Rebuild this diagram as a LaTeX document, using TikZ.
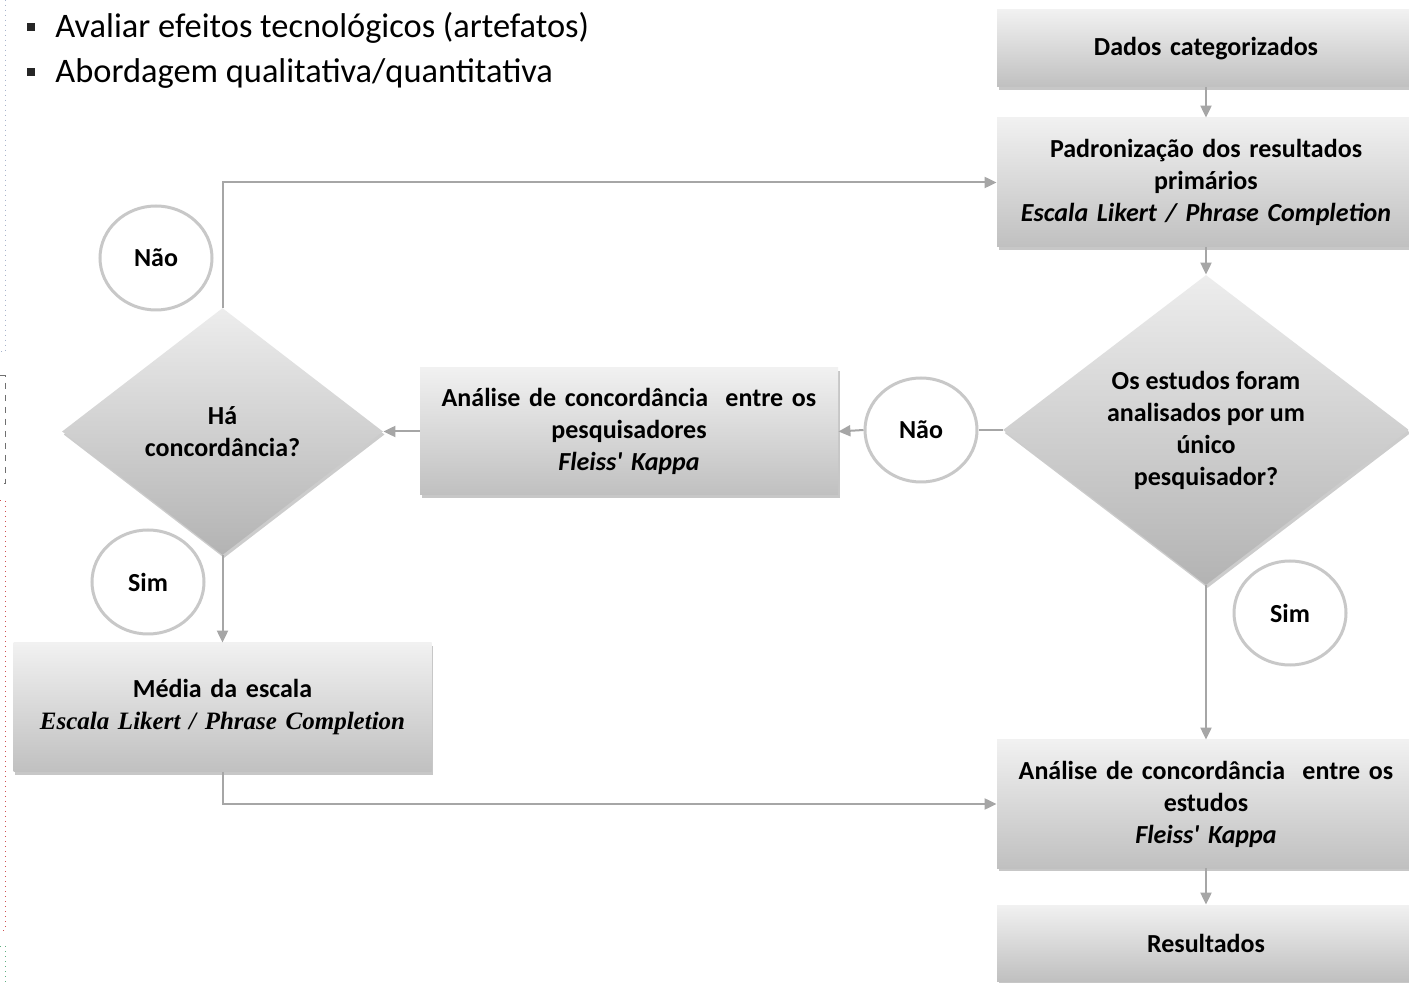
\documentclass[tikz,border=0pt]{standalone}
\usepackage{fontspec}
\setmainfont{Carlito}
\newfontfamily\serifbi{Liberation Serif}
\usetikzlibrary{shapes.geometric,arrows.meta,shadows}
\definecolor{linegray}{HTML}{A6A6A6}
\definecolor{circgray}{HTML}{C8C8C8}
\definecolor{boxtop}{HTML}{F1F1F1}
\definecolor{boxbot}{HTML}{C0C0C0}
\definecolor{diatop}{HTML}{EDEDED}
\definecolor{diabot}{HTML}{B3B3B3}
\definecolor{edgeblue}{HTML}{A8B4CC}
\definecolor{edgegray}{HTML}{707070}
\definecolor{edgered}{HTML}{D05050}
\definecolor{edgegreen}{HTML}{60B080}
\newcommand{\sq}{{\addfontfeature{Ligatures=TeXOff}'}}
\tikzset{
  txt/.style={font=\bfseries\fontsize{13}{16}\selectfont, text=black},
  box/.style={txt, rectangle, minimum width=209pt, text width=205pt, align=center,
    inner sep=0pt, top color=boxtop, bottom color=boxbot,
    drop shadow={shadow xshift=0.8pt, shadow yshift=-1.5pt, fill=black, opacity=0.22}},
  dia/.style={txt, diamond, aspect=1.3, inner sep=0pt, align=center,
    top color=diatop, bottom color=diabot,
    drop shadow={shadow xshift=0.8pt, shadow yshift=-1.5pt, fill=black, opacity=0.2}},
  circ/.style={txt, ellipse, draw=circgray, line width=1.5pt, fill=white,
    minimum width=56pt, minimum height=52pt, inner sep=0pt},
  conn/.style={draw=linegray, line width=1pt},
  arr/.style={conn, -{Triangle[length=6pt,width=5.5pt]}},
  bullettxt/.style={font=\fontsize{17.2}{20}\selectfont, text=black, anchor=base west, inner sep=0pt},
  bulletbox/.style={rectangle, fill=black!85, minimum size=4pt, inner sep=0pt},
  edgeline/.style={line width=0.5pt, dotted}
}
\begin{document}
\begin{tikzpicture}[x=0.5pt,y=-0.5pt]
\useasboundingbox (0,0) rectangle (1409,983);
\clip (0,0) rectangle (1409,983);
\fill[white] (0,0) rectangle (1409,983);

% left-edge fragments
\draw[edgeline, edgeblue] (0,0) -- (5,0) -- (5,352) -- (0,352);
\draw[line width=0.5pt, dashed, edgegray] (0,376) -- (5,376) -- (5,484) -- (0,484);
\draw[edgeline, edgered] (0,501) -- (5,501) -- (5,930) -- (0,930);
\draw[edgeline, edgegreen] (0,946) -- (5,946) -- (5,983);

% bullet list
\node[bulletbox] (b1) at (31,27.5) {};
\node[bullettxt] (t1) at (55,38) {Avaliar efeitos tecnológicos (artefatos)};
\node[bulletbox] (b2) at (31,72.5) {};
\node[bullettxt] (t2) at (55,83) {Abordagem qualitativa/quantitativa};

% boxes
\node[box, minimum height=38.5pt] (dados) at (1206,48.5) {Dados categorizados};
\node[box, minimum height=64.5pt] (padr) at (1206,182.5)
  {Padronização dos resultados\\ primários\\ \itshape Escala Likert / Phrase Completion};
\node[box, minimum height=63.5pt] (ap) at (629,431.5)
  {Análise de concordância~ entre os\\ pesquisadores\\ \itshape Fleiss\sq{} Kappa};
\node[box, minimum height=64.5pt] (media) at (222.5,707.5)
  {Média da escala\\ {\serifbi\bfseries\itshape\fontsize{12.5}{16}\selectfont Escala Likert / Phrase Completion}};
\node[box, minimum height=64pt] (ae) at (1206,804)
  {Análise de concordância~ entre os\\ estudos\\ \itshape Fleiss\sq{} Kappa};
\node[box, minimum height=38pt] (res) at (1206,943) {Resultados};

% diamonds
\node[dia, minimum width=203pt, minimum height=155pt] (d1) at (1206,430)
  {Os estudos foram\\ analisados por um\\ único\\ pesquisador?};
\node[dia, minimum width=160.5pt, minimum height=123.5pt] (d2) at (222.5,431.5)
  {Há\\ concordância?};

% circles
\node[circ] (nao1) at (921,430) {Não};
\node[circ] (nao2) at (156,258) {Não};
\node[circ] (sim1) at (148,582) {Sim};
\node[circ] (sim2) at (1290,613) {Sim};

% connectors
\draw[arr] (dados) -- (padr);
\draw[arr] (padr) -- (d1);
\draw[conn] (d1.west) -- (nao1.east);
\draw[arr] (nao1.west) -- (ap.east);
\draw[arr] (ap.west) -- (d2.east);
\draw[arr] (d2.north) |- (padr.west);
\draw[arr] (d2.south) -- (media.north);
\draw[arr] (media.south) |- (ae.west);
\draw[arr] (d1.south) -- (ae.north);
\draw[arr] (ae) -- (res);
\end{tikzpicture}
\end{document}
